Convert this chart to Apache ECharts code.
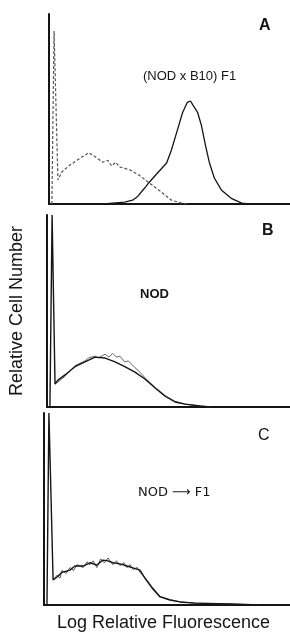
<!DOCTYPE html>
<html>
<head>
<meta charset="utf-8">
<script src="https://cdn.jsdelivr.net/npm/echarts@6/dist/echarts.min.js"></script>
<style>
  html, body { margin: 0; padding: 0; background: #fff; }
  #chart { width: 290px; height: 633px; }
</style>
</head>
<body>
<div id="chart"></div>
<script>
// panel A: control (dashed) and (NOD x B10) F1 (solid)
var aControl = [[1.2,0],[2.1,91],[2.6,91],[3.7,12.6],[5.4,17],[8.7,20.5],[12.8,24],[16.5,27],[19,25],[22.3,22],[24.4,23],[26,20],[27.7,22],[29.3,19.5],[33.5,18],[37.6,15],[41.7,11],[45.9,7],[50.8,2],[55,0.5],[58,0]];
var aF1 = [[23,0],[26.4,0.5],[31.4,1],[34.7,2],[36.8,4],[39.7,8.4],[41.7,11.6],[45,16.3],[48.8,21.6],[50.8,28.4],[53.3,39],[55.4,48],[57.4,53.5],[58.7,54.2],[60,51.5],[61.6,48.4],[63.2,41.6],[64.9,31],[66.5,22],[68.6,13.7],[71.5,7.4],[75.6,3],[80,0.5],[83,0]];
// panel B: NOD, two overlapping traces
var bNod1 = [[1.2,0],[2.1,100],[2.7,100],[3.3,12],[4.5,14],[7.4,16.7],[11.5,21],[15.6,23.5],[19.8,26],[23.9,25.5],[28,23.5],[32,21],[36.2,18.2],[40.3,14.6],[44.4,10],[48.6,5.6],[52.7,2.6],[56.8,1.5],[63,0.5],[67,0]];
var bNod2 = [[3.3,12],[4.5,13],[7.4,16],[11.5,21.5],[15.6,24],[17,25.5],[19.8,26.5],[21,25.5],[23.9,27.5],[25.5,26],[27,28],[28.5,26],[30,26.5],[32,23.5],[33.5,24],[36.2,20.5],[38,18.5],[40.3,15.2],[44.4,10.3],[48.6,6],[52.7,3],[56.8,1.5],[63,0.5],[67,0]];
// panel C: NOD -> F1, two overlapping traces
var cNod1 = [[1.2,0],[2,100],[2.6,100],[3.7,13],[5.3,14.6],[7.3,17],[10.6,18.2],[12.6,20.3],[15.9,20.3],[18.7,22],[21.5,20.8],[24,23.4],[26,23],[28,22],[30.9,21.4],[33.7,20.3],[36.2,19.3],[39,18.2],[41,14],[43.9,8.9],[47.2,4.2],[51.2,2.6],[55.3,1.6],[61.4,1],[75.6,0.5],[87.8,0]];
var cNod2 = [[3.7,13],[5.3,15.5],[6.5,14],[7.3,18],[9,16.5],[10.6,19.5],[12,18],[13.5,21],[15.9,19.5],[17.5,22.5],[18.7,21],[20,23],[21.5,19.5],[23,24],[24.5,22],[26,24.5],[28,21],[29.5,23],[30.9,20.5],[32.5,22],[33.7,19.5],[35,21],[36.2,18.5],[38,19.5],[39,17],[41,14.5],[43.9,9.5],[47.2,4.5],[51.2,2.8],[55.3,1.6],[61.4,1],[75.6,0.5],[87.8,0]];

var labelFont = '"Liberation Sans", Arial, sans-serif';
var ink = '#151515';

var grids = [
  { left: 49, right: 0, top: 14, height: 190 },
  { left: 47, right: 0, top: 215, height: 192 },
  { left: 44, right: 0, top: 413, height: 192 }
];

function xAx(i) {
  return {
    gridIndex: i, type: 'value', min: 0, max: 100,
    axisLine: { show: true, lineStyle: { color: ink, width: 2 } },
    axisTick: { show: false }, axisLabel: { show: false }, splitLine: { show: false }
  };
}
function yAx(i) {
  return {
    gridIndex: i, type: 'value', min: 0, max: 100,
    axisLine: { show: true, lineStyle: { color: ink, width: 2 } },
    axisTick: { show: false }, axisLabel: { show: false }, splitLine: { show: false }
  };
}
function trace(i, data, color, width, type) {
  return {
    type: 'line', xAxisIndex: i, yAxisIndex: i, data: data,
    symbol: 'none', silent: true, animation: false,
    lineStyle: { color: color, width: width, type: type || 'solid' }
  };
}

var chart = echarts.init(document.getElementById('chart'));
chart.setOption({
  backgroundColor: '#fff',
  grid: grids,
  xAxis: [xAx(0), xAx(1), xAx(2)],
  yAxis: [yAx(0), yAx(1), yAx(2)],
  series: [
    trace(0, aControl, '#555', 1.2, [3, 2]),
    trace(0, aF1, ink, 1.3),
    trace(1, bNod2, '#666', 1),
    trace(1, bNod1, ink, 1.4),
    trace(2, cNod2, '#555', 1),
    trace(2, cNod1, ink, 1.4)
  ],
  graphic: [
    { type: 'text', left: 259, top: 18, style: { text: 'A', font: 'bold 16px ' + labelFont, fill: ink } },
    { type: 'text', left: 262, top: 223, style: { text: 'B', font: 'bold 16px ' + labelFont, fill: ink } },
    { type: 'text', left: 258, top: 428, style: { text: 'C', font: '16px ' + labelFont, fill: ink } },
    { type: 'text', left: 143, top: 70, style: { text: '(NOD x B10) F1', font: '13px ' + labelFont, fill: ink } },
    { type: 'text', left: 140, top: 288, style: { text: 'NOD', font: 'bold 13px ' + labelFont, fill: ink } },
    { type: 'text', left: 138, top: 486, style: { text: 'NOD \u27F6 F1', font: '13px "DejaVu Sans", sans-serif', fill: ink } },
    { type: 'text', left: 57, top: 614, style: { text: 'Log Relative Fluorescence', font: '18px ' + labelFont, fill: ink } },
    { type: 'text', x: 17, y: 311, rotation: Math.PI / 2,
      style: { text: 'Relative Cell Number', font: '18px ' + labelFont, fill: ink, align: 'center', verticalAlign: 'middle' } }
  ]
});
</script>
</body>
</html>
